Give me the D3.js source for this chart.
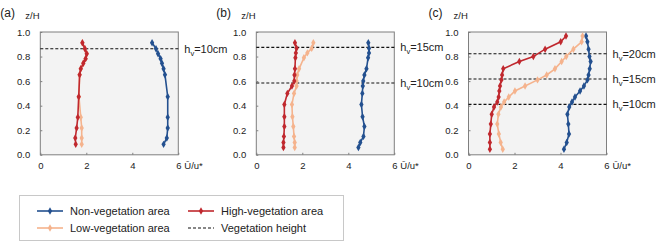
<!DOCTYPE html>
<html>
<head>
<meta charset="utf-8">
<script src="https://cdn.jsdelivr.net/npm/d3@7"></script>
<style>
  body { margin: 0; background: #fff; }
  svg { font-family: "Liberation Sans", Arial, sans-serif; }
</style>
</head>
<body>
<div id="chart"></div>
<script>
// ---- data ----
const xTicks = [0, 2, 4, 6];
const yTicks = [0.0, 0.2, 0.4, 0.6, 0.8, 1.0];

// panel (a)
const zA = [0.913, 0.864, 0.823, 0.783, 0.745, 0.70, 0.652, 0.473, 0.305, 0.218, 0.137, 0.085];
const nonVegA = [4.86, 5.03, 5.12, 5.23, 5.29, 5.36, 5.42, 5.54, 5.54, 5.54, 5.50, 5.36];
const lowVegA = [1.83, 1.94, 2.02, 1.97, 1.87, 1.76, 1.71, 1.68, 1.76, 1.80, 1.80, 1.80];
const highVegA = [1.83, 1.94, 2.02, 1.97, 1.87, 1.76, 1.71, 1.67, 1.63, 1.58, 1.52, 1.54];
const hvA = [0.864];
const hvLabelsA = ["10cm"];

// panel (b)
const zB = [0.913, 0.867, 0.83, 0.79, 0.70, 0.65, 0.60, 0.56, 0.50, 0.41, 0.31, 0.23, 0.15, 0.10, 0.06];
const nonVegB = [4.87, 4.90, 4.90, 4.86, 4.79, 4.70, 4.65, 4.63, 4.61, 4.57, 4.62, 4.70, 4.66, 4.52, 4.44];
const lowVegB = [2.48, 2.41, 2.22, 2.07, 1.86, 1.78, 1.75, 1.75, 1.64, 1.55, 1.57, 1.61, 1.64, 1.67, 1.67];
const highVegB = [1.68, 1.75, 1.72, 1.70, 1.68, 1.66, 1.65, 1.55, 1.35, 1.22, 1.22, 1.22, 1.20, 1.18, 1.18];
const hvB = [0.875, 0.585];
const hvLabelsB = ["15cm", "10cm"];

// panel (c)
const zC = [0.967, 0.92, 0.86, 0.80, 0.76, 0.70, 0.65, 0.61, 0.56, 0.52, 0.47, 0.43, 0.39, 0.33, 0.25, 0.17, 0.10, 0.045];
const nonVegC = [5.11, 5.17, 5.22, 5.26, 5.31, 5.27, 5.22, 5.17, 5.02, 4.85, 4.63, 4.50, 4.38, 4.30, 4.34, 4.37, 4.27, 4.15];
const lowVegC = [4.96, 4.92, 4.56, 4.25, 4.05, 3.76, 3.40, 3.00, 2.46, 2.02, 1.75, 1.55, 1.41, 1.30, 1.25, 1.32, 1.40, 1.49];
const highVegC = [4.24, 4.01, 3.33, 2.82, 2.21, 1.51, 1.46, 1.43, 1.37, 1.34, 1.31, 1.25, 1.11, 1.01, 0.97, 0.93, 0.93, 0.93];
const hvC = [0.823, 0.617, 0.411];
const hvLabelsC = ["20cm", "15cm", "10cm"];

const seriesNames = ["Non-vegetation area", "Low-vegetation area", "High-vegetation area", "Vegetation height"];
const colors = ["#23508f", "#f5b38d", "#c0282e"];

const panels = [
    {label: "(a)", left: 40.3, z: zA, series: [nonVegA, lowVegA, highVegA], hv: hvA, hvLabels: hvLabelsA},
    {label: "(b)", left: 256.3, z: zB, series: [nonVegB, lowVegB, highVegB], hv: hvB, hvLabels: hvLabelsB},
    {label: "(c)", left: 468.5, z: zC, series: [nonVegC, lowVegC, highVegC], hv: hvC, hvLabels: hvLabelsC}
];

const width = 669;
const height = 246;
const plotW = 138;
const plotTop = 32;
const plotBottom = 154.8;

const svg = d3.select("#chart")
    .append("svg")
    .attr("width", width)
    .attr("height", height);

const marker = d3.symbol().type(d3.symbolDiamond).size(16);

panels.forEach(function (p) {
    const x = d3.scaleLinear().domain([0, 6]).range([p.left, p.left + plotW]);
    const y = d3.scaleLinear().domain([0, 1]).range([plotBottom, plotTop]);
    const g = svg.append("g");

    // plot area
    g.append("rect")
        .attr("x", x(0)).attr("y", y(1))
        .attr("width", x(6) - x(0)).attr("height", y(0) - y(1))
        .attr("fill", "#f3f3f3")
        .attr("stroke", "#7f7f7f")
        .attr("stroke-width", 1);

    // axes (ticks point inward)
    const yAxis = g.append("g")
        .attr("transform", `translate(${x(0)},0)`)
        .call(d3.axisLeft(y).tickValues(yTicks).tickSize(-2).tickPadding(10).tickFormat(d3.format(".1f")));
    const xAxis = g.append("g")
        .attr("transform", `translate(0,${y(0)})`)
        .call(d3.axisBottom(x).tickValues(xTicks).tickSize(-2).tickPadding(7).tickFormat(d3.format("d")));
    [yAxis, xAxis].forEach(function (a) {
        a.select(".domain").remove();
        a.selectAll(".tick line").attr("stroke", "#7f7f7f");
        a.selectAll(".tick text")
            .attr("font-size", 9.5)
            .attr("fill", "#222")
            .attr("font-family", "Liberation Sans, Arial, sans-serif");
    });

    // axis titles and panel label
    g.append("text")
        .attr("x", x(0) - 15).attr("y", 19)
        .attr("font-size", 9.5).attr("fill", "#222")
        .text("z/H");
    g.append("text")
        .attr("x", x(6) + 6).attr("y", y(0) + 14)
        .attr("font-size", 9.5).attr("fill", "#222")
        .text("Ū/u*");
    g.append("text")
        .attr("x", x(0) - 40).attr("y", 17)
        .attr("font-size", 12).attr("fill", "#222")
        .text(p.label);

    // vegetation height lines
    p.hv.forEach(function (h, i) {
        g.append("line")
            .attr("x1", x(0)).attr("x2", x(6) + 1)
            .attr("y1", y(h)).attr("y2", y(h))
            .attr("stroke", "#111")
            .attr("stroke-width", 1.1)
            .attr("stroke-dasharray", "3,2");
        const t = g.append("text")
            .attr("x", x(6) + 6).attr("y", y(h) + 4)
            .attr("font-size", 11).attr("fill", "#222");
        t.append("tspan").text("h");
        t.append("tspan").attr("font-size", 7.5).attr("dy", 3).text("v");
        t.append("tspan").attr("dy", -3).text("=" + p.hvLabels[i]);
    });

    // profiles
    const line = d3.line()
        .x(function (d) { return x(d[0]); })
        .y(function (d) { return y(d[1]); });

    p.series.forEach(function (vals, si) {
        const pts = vals.map(function (v, i) { return [v, p.z[i]]; });
        g.append("path")
            .datum(pts)
            .attr("d", line)
            .attr("fill", "none")
            .attr("stroke", colors[si])
            .attr("stroke-width", 1.6);
        g.selectAll(null)
            .data(pts)
            .enter().append("path")
            .attr("d", marker)
            .attr("transform", function (d) { return `translate(${x(d[0])},${y(d[1])})`; })
            .attr("fill", colors[si]);
    });
});

// legend
const legend = svg.append("g");
legend.append("rect")
    .attr("x", 19.5).attr("y", 195.5)
    .attr("width", 324).attr("height", 45)
    .attr("fill", "#fff")
    .attr("stroke", "#c8c8c8");

const legendPos = [
    {x: 37, y: 211}, {x: 37, y: 228}, {x: 188, y: 211}, {x: 188, y: 228}
];
seriesNames.forEach(function (name, i) {
    const pos = legendPos[i];
    const item = legend.append("g");
    if (i < 3) {
        item.append("line")
            .attr("x1", pos.x).attr("x2", pos.x + 26)
            .attr("y1", pos.y).attr("y2", pos.y)
            .attr("stroke", colors[i]).attr("stroke-width", 1.6);
        item.append("path")
            .attr("d", marker)
            .attr("transform", `translate(${pos.x + 13},${pos.y})`)
            .attr("fill", colors[i]);
    } else {
        item.append("line")
            .attr("x1", pos.x).attr("x2", pos.x + 26)
            .attr("y1", pos.y).attr("y2", pos.y)
            .attr("stroke", "#111").attr("stroke-width", 1.1)
            .attr("stroke-dasharray", "3,2");
    }
    item.append("text")
        .attr("x", pos.x + 33).attr("y", pos.y + 4)
        .attr("font-size", 11).attr("fill", "#222")
        .text(name);
});
</script>
</body>
</html>
